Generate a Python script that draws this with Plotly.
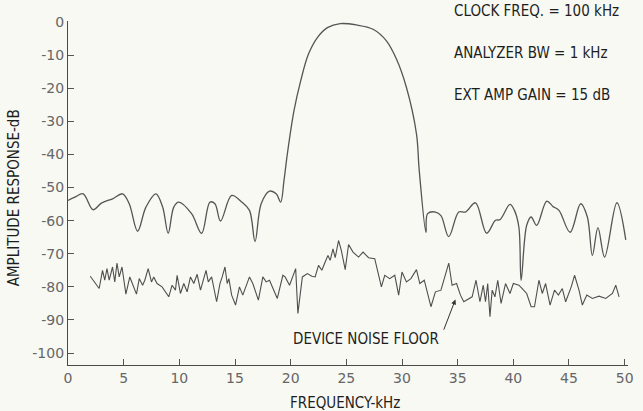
import plotly.graph_objects as go

# Filter response (upper trace): frequency in kHz, amplitude in dB
resp_khz = [0.0, 0.62, 1.36, 2.25, 3.0, 4.0, 4.9, 5.5, 6.25, 7.0, 7.9, 8.5, 9.0, 9.5,
            9.95, 11.1, 12.0, 12.75, 13.2, 13.7, 14.7, 15.6, 16.3, 16.8, 17.35, 18.1,
            18.7, 19.1, 19.4, 19.7, 20.3, 20.9, 21.6, 22.4, 23.3, 24.45, 25.9, 27.4,
            28.6, 29.5, 30.4, 31.3, 31.55, 32.15, 32.3, 33.0, 33.5, 34.2, 35.1, 35.7,
            36.6, 37.6, 38.4, 38.8, 39.7, 40.1, 40.5, 40.7, 41.2, 41.6, 42.1, 43.0,
            43.55, 44.1, 45.1, 46.05, 46.65, 47.1, 47.6, 48.2, 49.3, 50.1]
resp_db = [-53.9, -52.9, -51.9, -56.7, -54.7, -53.4, -51.9, -54.9, -63.2, -55.9, -51.9,
           -55.9, -63.8, -55.9, -54.4, -57.9, -63.8, -54.4, -54.9, -60.1, -52.4, -54.4,
           -56.9, -66.3, -54.9, -51.1, -51.9, -54.4, -47.9, -39.9, -26.8, -17.8, -9.7,
           -4.7, -1.7, -0.5, -0.9, -2.2, -5.7, -11.2, -19.8, -33.8, -44.9, -63.5, -57.9,
           -57.4, -58.5, -64.8, -57.4, -57.4, -54.6, -63.8, -59.9, -59.7, -55.1, -56.9,
           -62.0, -78.0, -61.4, -58.9, -61.4, -54.1, -55.7, -56.9, -63.5, -54.9, -58.9,
           -70.5, -62.1, -71.0, -54.6, -65.8]

# Device noise floor (lower trace)
noise_khz = [2.0, 2.4, 2.8, 3.1, 3.3, 3.5, 3.7, 4.0, 4.2, 4.4, 4.6, 4.85, 5.2, 5.55,
             5.85, 6.15, 6.4, 6.7, 6.9, 7.2, 7.5, 7.7, 8.0, 8.45, 9.05, 9.35, 9.65,
             9.8, 10.1, 10.4, 10.7, 11.0, 11.3, 11.6, 11.9, 12.2, 12.4, 12.6, 12.9,
             13.35, 13.65, 13.85, 14.1, 14.3, 14.45, 14.7, 15.05, 15.4, 15.7, 16.3,
             16.6, 17.1, 17.5, 17.8, 18.1, 18.8, 19.3, 19.5, 19.9, 20.45, 20.65,
             21.05, 21.5, 21.9, 22.2, 22.5, 22.8, 23.1, 23.35, 23.55, 23.8, 24.0,
             24.3, 24.55, 24.9, 25.2, 25.6, 26.1, 26.5, 27.0, 27.55, 28.15, 28.45,
             28.9, 29.35, 29.7, 30.0, 30.4, 30.8, 31.3, 31.6, 32.0, 32.6, 33.0, 33.5,
             34.2, 34.5, 34.9, 35.25, 35.55, 36.0, 36.3, 36.65, 37.0, 37.3, 37.5,
             37.7, 37.9, 38.1, 38.35, 38.6, 38.9, 39.3, 39.7, 40.0, 40.5, 40.8, 41.2,
             41.6, 41.9, 42.3, 42.6, 42.9, 43.3, 43.7, 44.05, 44.4, 44.7, 45.2, 45.5,
             45.9, 46.2, 46.6, 47.1, 47.7, 48.3, 48.9, 49.2, 49.5]
noise_db = [-76.8, -78.5, -80.5, -75.0, -78.0, -74.5, -78.0, -74.0, -78.5, -72.8, -77.0,
            -74.0, -82.2, -77.0, -79.5, -82.2, -77.5, -79.5, -78.0, -74.5, -78.5, -77.0,
            -79.0, -80.0, -83.0, -79.5, -81.0, -76.5, -82.0, -79.0, -81.5, -77.0, -79.0,
            -76.2, -81.0, -77.5, -75.0, -78.5, -77.0, -84.5, -79.0, -77.0, -74.0, -79.0,
            -77.5, -82.5, -85.5, -80.0, -82.5, -77.0, -79.0, -84.0, -77.0, -78.5, -78.0,
            -83.5, -76.5, -77.0, -79.5, -74.5, -88.0, -77.0, -76.0, -76.8, -77.0, -73.5,
            -75.0, -72.5, -70.5, -72.0, -68.5, -71.2, -66.0, -69.0, -74.8, -67.2, -69.5,
            -71.0, -69.5, -71.2, -71.5, -80.0, -76.5, -77.5, -76.5, -82.5, -75.5, -78.5,
            -77.5, -74.8, -79.0, -78.0, -86.0, -81.5, -81.0, -72.8, -79.5, -79.0, -82.5,
            -84.5, -83.5, -83.0, -78.0, -84.5, -79.5, -84.5, -79.0, -89.0, -81.0, -83.0,
            -78.0, -85.0, -79.0, -82.0, -79.0, -79.5, -80.5, -82.0, -86.0, -86.0, -78.0,
            -82.0, -79.0, -85.5, -81.0, -82.5, -80.5, -84.5, -80.0, -76.5, -81.0, -85.5,
            -82.5, -83.5, -82.8, -83.5, -82.0, -79.5, -83.0]

x_ticks = [0, 5, 10, 15, 20, 25, 30, 35, 40, 45, 50]
y_ticks = [0, -10, -20, -30, -40, -50, -60, -70, -80, -90, -100]
y_tick_text = ["0", "-10", "-20", "-30", "-40", "-50", "-60", "-70", "-80", "-90", "-100"]

settings = ["CLOCK FREQ. = 100 kHz", "ANALYZER BW = 1 kHz", "EXT AMP GAIN = 15 dB"]

label_font = "DejaVu Sans Condensed, Liberation Sans Narrow, sans-serif"
tick_font = "DejaVu Sans, Verdana, sans-serif"
text_color = "#1e1e1e"

fig = go.Figure()
fig.add_trace(go.Scatter(x=resp_khz, y=resp_db, mode="lines",
                         line=dict(color="#555555", width=1.3), line_shape="spline",
                         hoverinfo="skip"))
fig.add_trace(go.Scatter(x=noise_khz, y=noise_db, mode="lines",
                         line=dict(color="#4f4f4f", width=1.1),
                         hoverinfo="skip"))

annotations = []
for i, txt in enumerate(settings):
    annotations.append(dict(xref="paper", yref="paper", x=0.685, y=1.03 - i * 0.1225,
                            xanchor="left", yanchor="middle", showarrow=False,
                            text=txt, font=dict(family=label_font, size=15, color=text_color)))

annotations.append(dict(x=34.8, y=-83.8, ax=33.7, ay=-93.4, xref="x", yref="y",
                        axref="x", ayref="y", showarrow=True, arrowhead=2,
                        arrowsize=1, arrowwidth=1.0, arrowcolor="#333333", text=""))
annotations.append(dict(x=33.5, y=-95.6, xref="x", yref="y", xanchor="right",
                        yanchor="middle", showarrow=False, text="DEVICE NOISE FLOOR",
                        font=dict(family=label_font, size=15, color=text_color)))
annotations.append(dict(xref="x", yref="paper", x=24.9, y=-0.11, xanchor="center",
                        yanchor="middle", showarrow=False, text="FREQUENCY-kHz",
                        font=dict(family=label_font, size=15, color=text_color)))
annotations.append(dict(xref="paper", yref="y", x=-0.095, y=-53, xanchor="center",
                        yanchor="middle", showarrow=False, textangle=-90,
                        text="AMPLITUDE RESPONSE-dB",
                        font=dict(family=label_font, size=15, color=text_color)))

fig.update_layout(
    width=643, height=411,
    margin=dict(l=68, r=9, t=21, b=46),
    paper_bgcolor="#f8f9f3", plot_bgcolor="#f8f9f3",
    showlegend=False,
    annotations=annotations,
    xaxis=dict(range=[0, 50.3], tickvals=x_ticks, ticks="inside", ticklen=6,
               tickcolor="#555555", showline=True, linecolor="#4a4a4a", linewidth=1.2,
               showgrid=False, zeroline=False,
               tickfont=dict(family=tick_font, size=14, color="#666666")),
    yaxis=dict(range=[-103.6, 0.3], tickvals=y_ticks, ticktext=y_tick_text,
               ticks="inside", ticklen=6, tickcolor="#555555", showline=True,
               linecolor="#4a4a4a", linewidth=1.2, showgrid=False, zeroline=False,
               tickfont=dict(family=tick_font, size=14, color="#666666")),
)

fig.write_html("out.html")
